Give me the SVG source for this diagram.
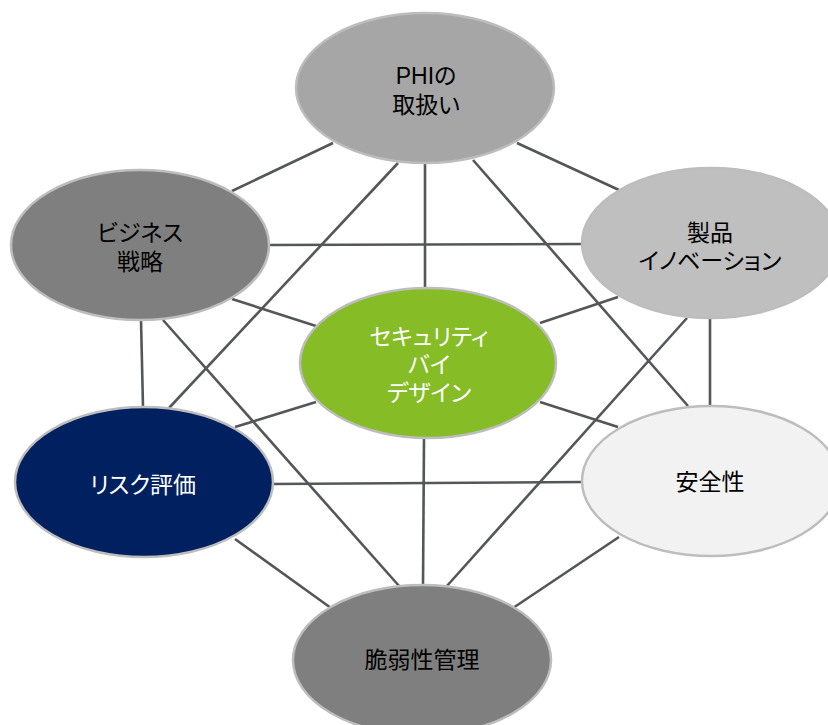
<svg xmlns="http://www.w3.org/2000/svg" width="828" height="725" viewBox="0 0 828 725">
<style>
.bg{fill:#FFFFFF}
.edge{stroke:#545659;stroke-width:2.6;fill:none;stroke-linecap:butt}
.node{stroke:#BDBDBD;stroke-width:2.5}
.lbl{font-family:"Liberation Sans","Noto Sans CJK JP",sans-serif;font-size:23px;text-anchor:middle;font-feature-settings:"palt" 1}
.dark{fill:#000000}
.light{fill:#FFFFFF}
</style>
<rect class="bg" x="0" y="0" width="828" height="725"/>
<g id="connectors">
  <line class="edge" x1="333" y1="143" x2="232" y2="191"/>
  <line class="edge" x1="517" y1="143" x2="619" y2="190"/>
  <line class="edge" x1="398" y1="163" x2="169" y2="408"/>
  <line class="edge" x1="425" y1="163" x2="425" y2="289"/>
  <line class="edge" x1="473" y1="160" x2="688" y2="406"/>
  <line class="edge" x1="268" y1="245" x2="583" y2="244"/>
  <line class="edge" x1="232" y1="299" x2="316" y2="326"/>
  <line class="edge" x1="141" y1="320" x2="143" y2="407"/>
  <line class="edge" x1="163" y1="320" x2="400" y2="587"/>
  <line class="edge" x1="540" y1="323" x2="618" y2="297"/>
  <line class="edge" x1="710" y1="318" x2="710" y2="406"/>
  <line class="edge" x1="687" y1="318" x2="446" y2="587"/>
  <line class="edge" x1="316" y1="402" x2="235" y2="427"/>
  <line class="edge" x1="540" y1="402" x2="618" y2="427"/>
  <line class="edge" x1="424" y1="437" x2="423" y2="587"/>
  <line class="edge" x1="272" y1="484" x2="583" y2="482"/>
  <line class="edge" x1="235" y1="539" x2="331" y2="608"/>
  <line class="edge" x1="619" y1="537" x2="513" y2="608"/>
</g>
<g id="phi">
  <ellipse class="node" cx="425" cy="88" rx="129" ry="75" fill="#A6A6A6"/>
  <text class="lbl dark" x="426" y="84">PHIの</text>
  <text class="lbl dark" x="426" y="113">取扱い</text>
</g>
<g id="business">
  <ellipse class="node" cx="140" cy="245" rx="129" ry="75" fill="#7F7F7F"/>
  <text class="lbl dark" x="140" y="241">ビジネス</text>
  <text class="lbl dark" x="140" y="270">戦略</text>
</g>
<g id="product">
  <ellipse class="node" cx="711" cy="243" rx="129" ry="75" fill="#BEBFBE"/>
  <text class="lbl dark" x="710" y="241">製品</text>
  <text class="lbl dark" x="710" y="269">イノベーション</text>
</g>
<g id="security">
  <ellipse class="node" cx="428" cy="363" rx="128" ry="75" fill="#86BC25"/>
  <text class="lbl light" x="429" y="345">セキュリティ</text>
  <text class="lbl light" x="429" y="373">バイ</text>
  <text class="lbl light" x="429" y="401">デザイン</text>
</g>
<g id="risk">
  <ellipse class="node" cx="144" cy="482" rx="129" ry="75" fill="#002060"/>
  <text class="lbl light" x="143" y="493">リスク評価</text>
</g>
<g id="safety">
  <ellipse class="node" cx="711" cy="481" rx="129" ry="75" fill="#F2F2F2"/>
  <text class="lbl dark" x="710" y="490">安全性</text>
</g>
<g id="vuln">
  <ellipse class="node" cx="422" cy="660" rx="129" ry="75" fill="#7F7F7F"/>
  <text class="lbl dark" x="422" y="668">脆弱性管理</text>
</g>
</svg>
